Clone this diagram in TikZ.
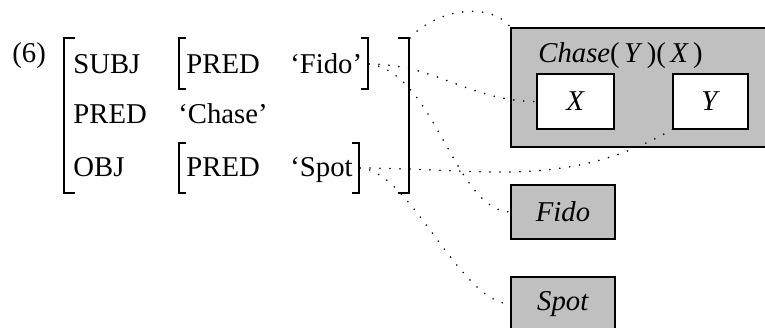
\documentclass[tikz,border=0pt]{standalone}
\usepackage{fontspec}
\setmainfont{Liberation Serif}
\definecolor{boxgray}{RGB}{192,192,192}
\tikzset{
  lbl/.style={anchor=base west, inner sep=0pt},
  outerbr/.style={line width=1.3pt},
  innerbr/.style={line width=0.8pt},
  graybox/.style={draw, line width=1pt, fill=boxgray, inner sep=0pt, outer sep=0pt},
  whitebox/.style={draw, line width=1pt, fill=white, inner sep=0pt, outer sep=0pt},
  dots/.style={line width=0.9pt, line cap=round, dash pattern=on 0pt off 5pt}
}
\begin{document}
\begin{tikzpicture}[x=0.5pt, y=0.5pt, font=\fontsize{14.35}{17}\selectfont]
            \useasboundingbox (0,0) rectangle (765,-327);
            \clip (0,0) rectangle (765,-327);

            % Example number
            \node[lbl] (six) at (12,-62) {(6)};

            % First row
            \node[lbl] (subj) at (73,-73) {SUBJ};
            \node[lbl] (pred1) at (186,-73) {PRED};
            \node[lbl] (fido) at (290,-73) {‘Fido’};

            % Second row
            \node[lbl] (pred) at (73,-123) {PRED};
            \node[lbl] (chase) at (178,-123) {‘Chase’};

            % Third row
            \node[lbl] (obj) at (73,-176) {OBJ};
            \node[lbl] (pred2) at (186,-176) {PRED};
            \node[lbl] (spot) at (290,-176) {‘Spot};

            % Brackets
            \draw[outerbr] (75,-38) -| (64,-193) -- (75,-193);
            \draw[outerbr] (398,-38) -| (409,-193) -- (398,-193);
            \draw[innerbr] (186,-38) -| (179,-89) -- (186,-89);
            \draw[innerbr] (361,-38) -| (368,-89) -- (361,-89);
            \draw[innerbr] (186,-143) -| (179,-193) -- (186,-193);
            \draw[innerbr] (352,-143) -| (359,-193) -- (352,-193);
            \coordinate (outerR) at (410,-38);
            \coordinate (fidoR) at (369,-64);
            \coordinate (spotR) at (360,-168);

            % Semantic boxes
            \node[graybox, anchor=north west, minimum width=150pt, minimum height=59.5pt] (chasebox) at (511,-28) {};
            \node[lbl] (chasetext) at (538,-62) {\textit{Chase}(\hspace{.15em}\textit{Y}\hspace{.15em})(\hspace{.15em}\textit{X}\hspace{.15em})};
            \node[whitebox, anchor=north west, minimum width=38.5pt, minimum height=27.5pt] (xbox) at (537,-74) {\textit{X}};
            \node[whitebox, anchor=north west, minimum width=37.5pt, minimum height=27.5pt] (ybox) at (673,-74) {\textit{Y}};
            \node[graybox, anchor=north west, minimum width=52pt, minimum height=27pt] (fidobox) at (511,-185) {\textit{Fido}};
            \node[graybox, anchor=north west, minimum width=52pt, minimum height=27pt] (spotbox) at (511,-277) {\textit{Spot}};

            % Dotted links
            \draw[dots] (outerR) .. controls (435,-10) and (490,0) .. (chasebox.north west);
            \draw[dots] (fidoR) to[out=0, in=180] (xbox.west);
            \draw[dots] (fidoR) .. controls (435,-72) and (455,-212) .. (fidobox.west);
            \draw[dots] (spotR) to[out=0, in=210] (ybox.south west);
            \draw[dots] (spotR) .. controls (410,-170) and (460,-304) .. (spotbox.west);
\end{tikzpicture}
\end{document}
